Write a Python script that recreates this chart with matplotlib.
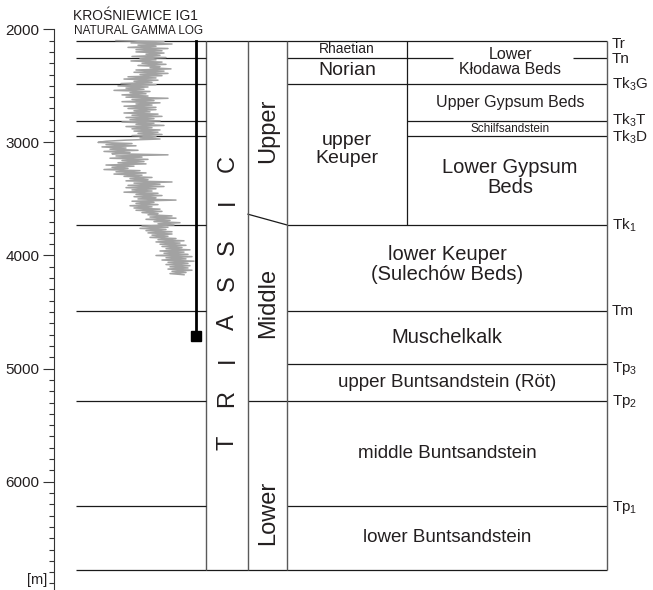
import numpy as np
import matplotlib
matplotlib.use("Agg")
import matplotlib.pyplot as plt

plt.rcParams['font.family'] = ['Liberation Sans', 'DejaVu Sans']
plt.rcParams['mathtext.fontset'] = 'custom'
plt.rcParams['mathtext.rm'] = 'Liberation Sans'
plt.rcParams['mathtext.it'] = 'Liberation Sans:italic'

# ===== data =====
boundary_names = ["Tr", "Tn", "Tk$_3$G", "Tk$_3$T", "Tk$_3$D", "Tk$_1$",
                  "Tm", "Tp$_3$", "Tp$_2$", "Tp$_1$"]
boundary_depths = [2100, 2250, 2480, 2815, 2945, 3730, 4495, 4960, 5285, 6215]
base_depth = 6780
slant_top = 3635          # Upper/Middle boundary in the sub-system column
well_td = 4710            # end of the gamma log well marker

depth_ticks = [2000, 3000, 4000, 5000, 6000]

# natural gamma log, sampled every 10 m from 2100 m down to 4170 m
gamma_depth = np.arange(2100, 4171, 10)
gamma_api = [
    40, 88, 55, 96, 62, 80, 52, 92, 60, 86,      # 2100
    60, 88, 70, 84, 56, 90, 64, 80, 55, 86,      # 2200
    66, 90, 62, 84, 74, 95, 60, 88, 58, 92,      # 2300
    64, 86, 52, 80, 48, 82, 58, 76, 45, 80,      # 2400
    42, 72, 50, 68, 38, 74, 54, 70, 46, 72,      # 2500
    50, 92, 56, 78, 46, 84, 60, 76, 48, 80,      # 2600
    52, 80, 58, 74, 48, 82, 56, 86, 50, 78,      # 2700
    54, 84, 46, 78, 60, 88, 50, 76, 56, 84,      # 2800
    58, 82, 62, 86, 56, 80, 64, 84, 50, 30,      # 2900
    22, 56, 30, 60, 26, 50, 34, 62, 28, 54,      # 3000
    36, 92, 40, 66, 34, 72, 46, 68, 42, 70,      # 3100
    30, 58, 36, 52, 28, 64, 40, 70, 38, 66,      # 3200
    48, 76, 54, 72, 50, 96, 58, 84, 52, 88,      # 3300
    50, 80, 56, 76, 48, 82, 60, 86, 58, 80,      # 3400
    62, 100, 56, 78, 60, 82, 54, 76, 58, 84,     # 3500
    60, 86, 66, 82, 72, 96, 74, 100, 70, 94,     # 3600
    78, 104, 82, 98, 66, 92, 64, 90, 70, 96,     # 3700
    72, 96, 76, 92, 74, 100, 82, 108, 80, 104,   # 3800
    84, 110, 86, 106, 90, 114, 84, 108, 88, 112, # 3900
    80, 116, 90, 110, 86, 118, 92, 112, 90, 114, # 4000
    94, 112, 92, 116, 96, 110, 94, 108,          # 4100
]

# ===== layout (pixel columns) =====
X_LOG0, X_WELL = 76, 196
X_TRIAS, X_ERA, X_SUB, X_MID, X_RIGHT = 206, 248, 287, 407, 607
LINE = "#1a1a1a"
COL = "#5a5a5a"
TXT = "#231f20"

fig = plt.figure(figsize=(6.53, 5.90), dpi=100)
ax = fig.add_axes([53.5 / 653, 0, 1 - 53.5 / 653, 1])
ax.set_xlim(53.5, 653)
ax.set_ylim(6957.5, 1741)
for s in ["top", "right", "bottom"]:
    ax.spines[s].set_visible(False)
ax.spines["left"].set_bounds(2000, 6950)
ax.spines["left"].set_color("#333333")
ax.spines["left"].set_linewidth(0.8)
ax.set_xticks([])
ax.set_yticks(depth_ticks)
ax.set_yticks(np.arange(2000, 7000, 100), minor=True)
ax.tick_params(axis="y", which="major", length=8, width=0.8, color="#333333",
               labelsize=11, pad=2, labelcolor=TXT)
ax.tick_params(axis="y", which="minor", length=3.5, width=0.8, color="#333333")
ax.text(47, 6870, "[m]", ha="right", va="center", fontsize=10.5, color=TXT)

# gamma log track
gax = fig.add_axes([X_LOG0 / 653, 0, 130 / 653, 1])
gax.set_xlim(0, 130)
gax.set_ylim(6957.5, 1741)
gax.axis("off")
gax.patch.set_alpha(0)
gax.plot(gamma_api, gamma_depth, color="#a2a2a2", lw=1.1)

# horizontal boundaries
track_depths = [d for d, n in zip(boundary_depths, boundary_names) if n != "Tp$_3$"]
ax.hlines(track_depths + [base_depth], X_LOG0, X_TRIAS, color=LINE, lw=0.9, zorder=3)
ax.hlines([boundary_depths[0], base_depth], X_TRIAS, X_RIGHT, color=LINE, lw=0.9)
ax.hlines(boundary_depths[8], X_ERA, X_RIGHT, color=LINE, lw=0.9)
ax.hlines([boundary_depths[i] for i in (2, 5, 6, 7, 9)], X_SUB, X_RIGHT, color=LINE, lw=0.9)
ax.hlines(boundary_depths[1], X_SUB, X_MID, color=LINE, lw=0.9)
ax.hlines([boundary_depths[3], boundary_depths[4]], X_MID, X_RIGHT, color=LINE, lw=0.9)
ax.hlines([boundary_depths[1]] * 2, [X_MID, 573], [453, X_RIGHT], color=LINE, lw=0.9)
ax.plot([X_ERA, X_SUB], [slant_top, boundary_depths[5]], color=LINE, lw=0.9)

# vertical column lines
ax.vlines([X_TRIAS, X_ERA, X_SUB, X_RIGHT], boundary_depths[0], base_depth, color=COL, lw=1)
ax.vlines(X_MID, boundary_depths[0], boundary_depths[5], color=LINE, lw=0.9)

# well
ax.plot([X_WELL, X_WELL], [boundary_depths[0], well_td], color="black", lw=2, zorder=4)
ax.plot(X_WELL, well_td, marker="s", ms=6.5, color="black", zorder=5)

# titles
ax.text(73, 1885, "KROŚNIEWICE IG1", ha="left", va="center", fontsize=10, color=TXT)
ax.text(74, 2012, "NATURAL GAMMA LOG", ha="left", va="center", fontsize=8.5, color=TXT)

# boundary labels on the right
label_shift = [30, 15, 10, -12, 14, 0, 0, 35, 10, 15]
for name, d, sh in zip(boundary_names, boundary_depths, label_shift):
    ax.text(612, d + sh, name, ha="left", va="center", fontsize=11, color=TXT)

# system / sub-system columns
trias_depths = [5659, 5261, 4925, 4589, 4244, 3925, 3528, 3183]
for letter, d in zip("TRIASSIC", trias_depths):
    ax.text(227.5, d, letter, rotation=90, ha="center", va="center", fontsize=17,
            color=TXT)
ax.text(268, 2900, "Upper", rotation=90, ha="center", va="center", fontsize=17, color=TXT)
ax.text(268, 4420, "Middle", rotation=90, ha="center", va="center", fontsize=17, color=TXT)
ax.text(268, 6277, "Lower", rotation=90, ha="center", va="center", fontsize=17, color=TXT)

# stratigraphic units
b = boundary_depths
cx_left = (X_SUB + X_MID) / 2
cx_right = (X_MID + X_RIGHT) / 2 + 3
cx_full = (X_SUB + X_RIGHT) / 2
units = [
    ("Rhaetian", cx_left, (b[0] + b[1]) / 2, 10),
    ("Norian", cx_left, (b[1] + b[2]) / 2, 14),
    ("Lower\nKłodawa Beds", cx_right, (b[0] + b[2]) / 2, 11.5),
    ("Upper Gypsum Beds", cx_right, (b[2] + b[3]) / 2, 11.5),
    ("Schilfsandstein", cx_right, (b[3] + b[4]) / 2, 8.5),
    ("upper\nKeuper", cx_left, (b[2] + b[5]) / 2 - 45, 14),
    ("Lower Gypsum\nBeds", cx_right, (b[4] + b[5]) / 2 - 30, 14.5),
    ("lower Keuper\n(Sulechów Beds)", cx_full, (b[5] + b[6]) / 2 - 35, 14.5),
    ("Muschelkalk", cx_full, (b[6] + b[7]) / 2, 14.5),
    ("upper Buntsandstein (Röt)", cx_full, (b[7] + b[8]) / 2, 13.5),
    ("middle Buntsandstein", cx_full, (b[8] + b[9]) / 2, 13.5),
    ("lower Buntsandstein", cx_full, (b[9] + base_depth) / 2, 13.5),
]
for txt, x, y, fs in units:
    ax.text(x, y, txt, ha="center", va="center", fontsize=fs, color=TXT,
            linespacing=1.05)

fig.savefig("out.png", dpi=100)
